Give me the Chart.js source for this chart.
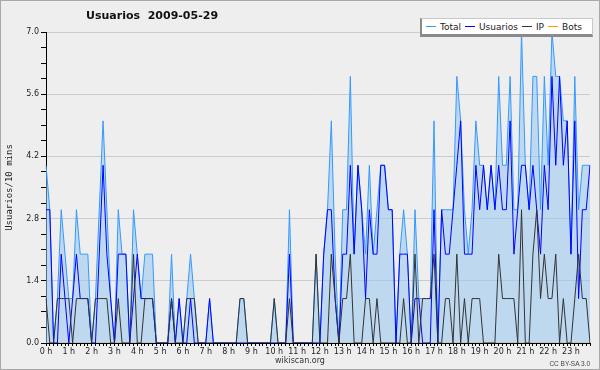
<!DOCTYPE html>
<html>
<head>
<meta charset="utf-8">
<script src="https://cdn.jsdelivr.net/npm/chart.js@4.4.0/dist/chart.umd.min.js"></script>
<style>
    body { margin: 0; background: #eeeeee; }
    #wrap { position: relative; width: 600px; height: 370px; background: #eeeeee; }
    #frame { position: absolute; left: 0; top: 0; width: 600px; height: 370px; box-sizing: border-box; border: 1px solid #a8a8a8; pointer-events: none; }
    #title { position: absolute; left: 86px; top: 9px; font: bold 11px "DejaVu Sans", sans-serif; color: #111; white-space: pre; }
    #legend { position: absolute; left: 420px; top: 18px; width: 166px; height: 15px; background: #fff;
              border-top: 1px solid #c8c8c8; border-right: 1px solid #c8c8c8;
              border-left: 2px solid #8a8a8a; border-bottom: 3px solid #8a8a8a;
              font: 9px "DejaVu Sans", sans-serif; color: #222; display: flex; align-items: center; padding-left: 4px; }
    #legend span { display: flex; align-items: center; margin-right: 4px; }
    #legend i { display: inline-block; width: 10px; height: 1px; margin-right: 4px; }
    #site { position: absolute; left: 0; width: 600px; top: 356px; text-align: center; font: 8px "DejaVu Sans", sans-serif; color: #333; }
    #licence { position: absolute; right: 10px; top: 360px; font: 6.5px "Liberation Sans", sans-serif; color: #444; }
</style>
</head>
<body>
<div id="wrap">
    <canvas id="chart" width="600" height="370"></canvas>
    <div id="title">Usuarios  2009-05-29</div>
    <div id="legend">
        <span><i style="background:#3399ff"></i>Total</span>
        <span><i style="background:#0000ff"></i>Usuarios</span>
        <span><i style="background:#333333"></i>IP</span>
        <span><i style="background:#ff9900"></i>Bots</span>
    </div>
    <div id="site">wikiscan.org</div>
    <div id="licence">CC BY-SA 3.0</div>
    <div id="frame"></div>
</div>
<script>
// tick labels
const hourLabels = ['0 h', '1 h', '2 h', '3 h', '4 h', '5 h', '6 h', '7 h', '8 h', '9 h', '10 h', '11 h',
    '12 h', '13 h', '14 h', '15 h', '16 h', '17 h', '18 h', '19 h', '20 h', '21 h', '22 h', '23 h'];
const slotsPerHour = 6; // one value every 10 minutes
const yMajorTicks = [0, 1.4, 2.8, 4.2, 5.6, 7.0];
const yMinorPerMajor = 4;

// values per 10 minutes, one line per hour
const total = [
    4, 3, 0, 1, 3, 2,
    1, 1, 3, 2, 2, 2,
    0, 1, 3, 5, 3, 1,
    0, 3, 2, 2, 0, 3,
    2, 1, 2, 2, 2, 0,
    0, 0, 0, 2, 0, 1,
    0, 1, 2, 1, 0, 0,
    0, 1, 0, 0, 0, 0,
    0, 0, 0, 1, 1, 0,
    0, 0, 0, 0, 0, 0,
    1, 0, 0, 0, 3, 0,
    0, 0, 0, 0, 0, 2,
    0, 2, 3, 5, 2, 0,
    3, 3, 6, 2, 4, 3,
    2, 4, 2, 3, 4, 4,
    3, 3, 0, 2, 3, 2,
    0, 3, 1, 1, 1, 1,
    5, 0, 3, 3, 3, 3,
    6, 5, 3, 2, 3, 5,
    4, 4, 3, 4, 3, 6,
    4, 4, 6, 3, 3, 7,
    4, 3, 6, 6, 3, 6,
    4, 7, 6, 6, 5, 5,
    2, 6, 3, 4, 4, 4
];
const usuarios = [
    3, 3, 0, 0, 2, 1,
    0, 1, 2, 1, 1, 1,
    0, 0, 2, 4, 2, 1,
    0, 2, 2, 2, 0, 1,
    2, 1, 1, 1, 1, 0,
    0, 0, 0, 1, 0, 1,
    0, 0, 1, 0, 0, 0,
    0, 1, 0, 0, 0, 0,
    0, 0, 0, 0, 0, 0,
    0, 0, 0, 0, 0, 0,
    0, 0, 0, 0, 2, 0,
    0, 0, 0, 0, 0, 0,
    0, 2, 3, 3, 1, 0,
    2, 2, 4, 2, 4, 3,
    1, 3, 2, 2, 4, 4,
    3, 3, 0, 2, 2, 2,
    0, 1, 1, 0, 0, 0,
    3, 0, 3, 2, 2, 3,
    4, 5, 2, 2, 2, 4,
    3, 4, 3, 4, 3, 4,
    3, 3, 5, 2, 3, 4,
    4, 3, 4, 3, 2, 4,
    3, 6, 4, 6, 4, 5,
    2, 5, 1, 3, 3, 4
];
const ip = [
    1, 0, 0, 1, 1, 1,
    1, 0, 1, 1, 1, 1,
    0, 1, 1, 1, 1, 0,
    0, 1, 0, 0, 0, 2,
    0, 0, 1, 1, 1, 0,
    0, 0, 0, 1, 0, 0,
    0, 1, 1, 1, 0, 0,
    0, 0, 0, 0, 0, 0,
    0, 0, 0, 1, 1, 0,
    0, 0, 0, 0, 0, 0,
    1, 0, 0, 0, 1, 0,
    0, 0, 0, 0, 0, 2,
    0, 0, 0, 2, 1, 0,
    1, 1, 2, 0, 0, 0,
    1, 1, 0, 1, 0, 0,
    0, 0, 0, 0, 1, 0,
    0, 2, 0, 1, 1, 1,
    2, 0, 0, 1, 1, 0,
    2, 0, 1, 0, 1, 1,
    1, 0, 0, 0, 0, 2,
    1, 1, 1, 1, 0, 3,
    0, 0, 2, 3, 1, 2,
    1, 1, 2, 0, 1, 0,
    0, 1, 2, 1, 1, 0
];
const bots = [
    0, 0, 0, 0, 0, 0,  0, 0, 0, 0, 0, 0,  0, 0, 0, 0, 0, 0,  0, 0, 0, 0, 0, 0,
    0, 0, 0, 0, 0, 0,  0, 0, 0, 0, 0, 0,  0, 0, 0, 0, 0, 0,  0, 0, 0, 0, 0, 0,
    0, 0, 0, 0, 0, 0,  0, 0, 0, 0, 0, 0,  0, 0, 0, 0, 0, 0,  0, 0, 0, 0, 0, 0,
    0, 0, 0, 0, 0, 0,  0, 0, 0, 0, 0, 0,  0, 0, 0, 0, 0, 0,  0, 0, 0, 0, 0, 0,
    0, 0, 0, 0, 0, 0,  0, 0, 0, 0, 0, 0,  0, 0, 0, 0, 0, 0,  0, 0, 0, 0, 0, 0,
    0, 0, 0, 0, 0, 0,  0, 0, 0, 0, 0, 0,  0, 0, 0, 0, 0, 0,  0, 0, 0, 0, 0, 0
];

document.addEventListener('DOMContentLoaded', function() {
    // one category per 10 minute slot
    const slots = [];
    hourLabels.forEach((h, hi) => {
        for (let k = 0; k < slotsPerHour; k++) slots.push(hi + ':' + (k * 10));
    });

    function isMajor(v) {
        return yMajorTicks.some(m => Math.abs(m - v) < 1e-6);
    }

    Chart.defaults.font.family = '"DejaVu Sans", sans-serif';
    Chart.defaults.color = '#222';

    const line = { pointRadius: 0, borderWidth: 1, tension: 0, fill: false };

    new Chart(document.getElementById('chart').getContext('2d'), {
        type: 'line',
        data: {
            labels: slots,
            datasets: [
                Object.assign({}, line, { label: 'Total', data: total, borderColor: '#3399ff',
                    backgroundColor: 'rgba(150,198,240,0.55)', fill: 'origin', order: 3 }),
                Object.assign({}, line, { label: 'Usuarios', data: usuarios, borderColor: '#0000ff', order: 2 }),
                Object.assign({}, line, { label: 'IP', data: ip, borderColor: '#333333', order: 1 }),
                Object.assign({}, line, { label: 'Bots', data: bots, borderColor: '#ff9900', order: 4 })
            ]
        },
        options: {
            responsive: false,
            animation: false,
            layout: { padding: { top: 32, right: 10, left: 0, bottom: 0 } },
            plugins: { legend: { display: false }, title: { display: false }, tooltip: { enabled: false } },
            scales: {
                x: {
                    z: 1,
                    grid: { drawOnChartArea: false, tickLength: 3, tickColor: '#000' },
                    border: { color: '#000' },
                    ticks: {
                        autoSkip: false, maxRotation: 0, padding: 1,
                        font: { size: 8 }, color: '#222',
                        callback: (value, index) => index % slotsPerHour === 0 ? hourLabels[index / slotsPerHour] : ''
                    },
                    afterFit: axis => { axis.height = 27; }
                },
                y: {
                    min: 0, max: 7,
                    afterBuildTicks: axis => {
                        const ticks = [];
                        yMajorTicks.forEach((m, i) => {
                            ticks.push({ value: m });
                            if (i < yMajorTicks.length - 1) {
                                const step = (yMajorTicks[i + 1] - m) / yMinorPerMajor;
                                for (let k = 1; k < yMinorPerMajor; k++) ticks.push({ value: m + k * step });
                            }
                        });
                        axis.ticks = ticks;
                    },
                    grid: {
                        color: ctx => (ctx.tick && isMajor(ctx.tick.value)) ? '#cccccc' : 'rgba(0,0,0,0)',
                        tickColor: '#000', tickLength: 5
                    },
                    border: { color: '#000' },
                    ticks: {
                        padding: 2, font: { size: 8 }, color: '#222',
                        callback: value => isMajor(value) ? value.toFixed(1) : ''
                    },
                    title: {
                        display: true, text: 'Usuarios/10 mins', color: '#222',
                        font: { family: '"DejaVu Sans Mono", monospace', size: 9 },
                        padding: { top: 4, bottom: 0 }
                    },
                    afterFit: axis => { axis.width = 46; }
                }
            }
        }
    });
});
</script>
</body>
</html>
